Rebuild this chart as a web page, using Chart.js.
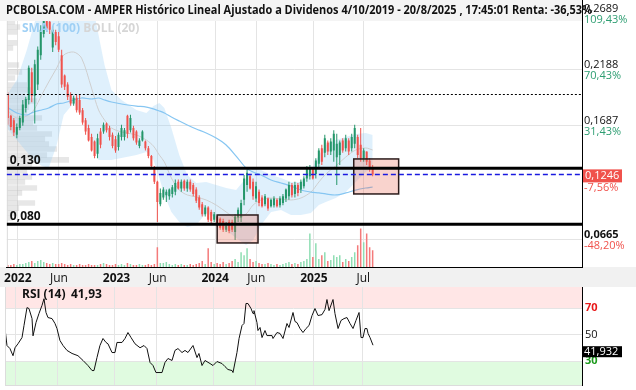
<!DOCTYPE html>
<html lang="es">
<head>
<meta charset="UTF-8">
<title>AMPER - Histórico</title>
<script src="https://cdn.jsdelivr.net/npm/chart.js"></script>
<style>
  body { margin: 0; background: #fff; }
  #mainChart { position: absolute; left: 0; top: 0; }
  #rsiChart { position: absolute; left: 0; top: 287px; }
</style>
</head>
<body>
<canvas id="mainChart" width="636" height="287"></canvas>
<canvas id="rsiChart" width="636" height="103"></canvas>
<script>
const FONT = '"Open Sans", "Noto Sans", sans-serif';
const GREEN = '#24966a', RED = '#f0524c';

// time axis (decimal years)
const xMin = 2021.889, xMax = 2027.717;
const timeTicks = [2022, 2022.4167, 2023, 2023.4167, 2024, 2024.4167, 2025, 2025.5];
const timeLabels = ['2022', 'Jun', '2023', 'Jun', '2024', 'Jun', '2025', 'Jul'];

// price axis
const yMin = 0.0418, yMax = 0.2805;
const priceTicks = [0.2689, 0.2188, 0.1687, 0.0665];
const priceTickPct = ['109,43%', '70,43%', '31,43%', '-48,20%'];
const priceTickBold = [false, false, false, true];

// candles (roughly every 11 days)
const t0 = 2021.899, dt = 0.0303;
const opens = [.196,.177,.173,.160,.166,.171,.184,.191,.216,.195,.205,.231,.250,.264,.261,.238,.252,.248,.231,.213,
  .205,.196,.188,.193,.191,.182,.173,.166,.158,.154,.143,.163,.163,.170,.166,.160,.156,.149,.158,.158,
  .177,.164,.166,.163,.150,.155,.154,.148,.141,.131,.118,.098,.104,.106,.105,.107,.109,.118,.112,.119,
  .112,.118,.115,.111,.104,.098,.089,.095,.091,.084,.087,.085,.083,.075,.082,.082,.073,.086,.086,.102,
  .115,.123,.118,.103,.109,.104,.098,.103,.096,.097,.102,.097,.099,.103,.105,.115,.107,.115,.111,.114,
  .121,.123,.130,.125,.134,.148,.144,.153,.145,.146,.140,.142,.155,.148,.155,.148,.152,.158,.151,.139,
  .145,.137,.131];
const highs = [.198,.178,.175,.170,.177,.191,.194,.222,.220,.227,.239,.258,.267,.267,.264,.257,.254,.252,.236,.214,
  .207,.198,.195,.196,.196,.184,.175,.169,.161,.155,.161,.166,.171,.171,.168,.162,.159,.162,.169,.166,
  .178,.178,.168,.164,.157,.164,.155,.150,.142,.132,.119,.112,.113,.111,.112,.115,.120,.120,.120,.120,
  .120,.120,.117,.113,.106,.100,.097,.096,.093,.091,.088,.086,.085,.082,.084,.084,.089,.095,.102,.124,
  .129,.125,.121,.118,.111,.106,.107,.104,.103,.105,.103,.105,.107,.112,.118,.117,.118,.117,.120,.123,
  .132,.133,.131,.139,.148,.151,.160,.155,.157,.164,.161,.155,.157,.160,.157,.161,.169,.160,.166,.148,
  .145,.139,.133];
const lows = [.169,.164,.159,.157,.164,.168,.180,.187,.189,.170,.200,.227,.247,.252,.250,.234,.240,.234,.202,.200,
  .191,.186,.186,.180,.178,.169,.160,.154,.145,.139,.139,.148,.161,.162,.155,.148,.144,.146,.155,.155,
  .157,.162,.155,.151,.148,.154,.146,.139,.130,.116,.082,.096,.102,.100,.102,.104,.106,.111,.109,.110,
  .109,.109,.105,.099,.093,.087,.087,.082,.081,.082,.078,.075,.073,.073,.072,.073,.066,.082,.082,.097,
  .109,.111,.102,.100,.096,.095,.096,.092,.095,.095,.095,.095,.097,.100,.102,.104,.104,.105,.108,.112,
  .118,.120,.120,.121,.130,.133,.140,.142,.142,.136,.115,.133,.144,.145,.142,.145,.148,.139,.136,.136,
  .133,.127,.123];
const closes = [.175,.167,.162,.167,.175,.187,.192,.220,.195,.223,.236,.254,.264,.255,.254,.254,.243,.236,.205,.203,
  .194,.188,.193,.182,.180,.171,.163,.155,.146,.141,.157,.151,.169,.164,.158,.150,.146,.160,.166,.164,
  .161,.175,.157,.153,.155,.163,.148,.141,.132,.118,.100,.108,.111,.109,.111,.113,.117,.112,.118,.112,
  .118,.111,.107,.101,.095,.089,.095,.084,.083,.089,.079,.077,.075,.079,.074,.075,.087,.093,.099,.121,
  .126,.112,.105,.114,.099,.096,.105,.094,.102,.103,.096,.103,.105,.111,.115,.106,.115,.108,.118,.121,
  .130,.131,.121,.137,.146,.136,.157,.145,.154,.161,.152,.153,.146,.157,.145,.158,.166,.142,.139,.146,
  .136,.130,.1246];
const volumes = [2,2,3,2,3,3,4,5,6,4, 6,7,5,4,3,4,3,3,4,3, 2,3,2,2,3,2,2,3,2,2, 2,3,4,3,2,2,3,2,3,2,
  4,3,2,2,3,2,2,3,2,3, 20,4,4,5,3,2,3,2,3,2, 2,3,2,3,4,6,3,19,5,3, 4,3,5,3,4,6,8,5,15,12,
  19,8,5,6,4,3,3,4,3,2, 3,2,3,4,5,3,4,3,5,6, 8,34,10,24,8,12,15,6,7,12, 10,12,5,8,6,10,15,22,39,25,
  34,20,17];
const volMax = 270;

// Bollinger (20) and SMA (100)
const bandT = [2021.889,2021.990,2022.091,2022.162,2022.242,2022.313,2022.394,2022.465,2022.566,2022.646,
  2022.747,2022.818,2022.879,2022.949,2023.051,2023.202,2023.303,2023.374,2023.434,2023.485,
  2023.556,2023.636,2023.717,2023.808,2023.909,2024.010,2024.111,2024.212,2024.313,2024.384,
  2024.465,2024.566,2024.667,2024.768,2024.869,2024.970,2025.051,2025.121,2025.222,2025.323,
  2025.424,2025.525,2025.596];
const bbUpper = [0.1956,0.2090,0.2358,0.2581,0.2805,0.2939,0.3029,0.3029,0.3029,0.2984,
  0.2805,0.2492,0.2224,0.2000,0.1911,0.1822,0.1795,0.1857,0.1884,0.1840,
  0.1661,0.1419,0.1241,0.1169,0.1178,0.1151,0.1124,0.1106,0.1214,0.1303,
  0.1285,0.1241,0.1214,0.1178,0.1178,0.1285,0.1419,0.1509,0.1553,0.1580,
  0.1607,0.1616,0.1598];
const bbLower = [0.1661,0.1553,0.1446,0.1375,0.1321,0.1303,0.1509,0.1777,0.1884,0.1777,
  0.1553,0.1375,0.1375,0.1375,0.1392,0.1419,0.1446,0.1375,0.1214,0.1062,
  0.0910,0.0820,0.0776,0.0794,0.0901,0.0856,0.0749,0.0677,0.0615,0.0659,
  0.0794,0.0910,0.0928,0.0883,0.0883,0.0901,0.0972,0.0999,0.1035,0.1088,
  0.1178,0.1267,0.1303];
const bbMid = [0.1822,0.1750,0.1768,0.1822,0.1956,0.2072,0.2197,0.2313,0.2340,0.2286,
  0.2018,0.1822,0.1732,0.1661,0.1625,0.1598,0.1553,0.1500,0.1419,0.1357,
  0.1214,0.1106,0.1062,0.1044,0.1017,0.0972,0.0910,0.0856,0.0892,0.0972,
  0.1017,0.1035,0.1026,0.1017,0.1035,0.1088,0.1178,0.1249,0.1321,0.1401,
  0.1464,0.1482,0.1464];
const sma100 = [0.1848,0.1795,0.1777,0.1804,0.1822,0.1840,0.1875,0.1884,0.1911,0.1929,
  0.1920,0.1929,0.1911,0.1893,0.1875,0.1857,0.1848,0.1831,0.1813,0.1795,
  0.1759,0.1723,0.1688,0.1652,0.1616,0.1571,0.1509,0.1410,0.1303,0.1267,
  0.1241,0.1196,0.1169,0.1142,0.1106,0.1088,0.1080,0.1071,0.1062,0.1080,
  0.1106,0.1124,0.1133];

// volume by price (left profile)
const profLevels = [0.2608,0.2564,0.2519,0.2421,0.2376,0.2224,0.2161,0.2108,0.2045,0.2000,0.1947,0.1902,
  0.1848,0.1804,0.1750,0.1705,0.1661,0.1607,0.1562,0.1518,0.1473,0.1419,0.1375,0.1321,0.1276,0.1223,
  0.1178,0.1124,0.1080,0.1035,0.0990,0.0945,0.0901,0.0856];
const profVol = [8,13,10,10,6,12,15,8,20,25,18,30,22,20,35,26,30,45,38,42,50,40,62,25,20,25,18,30,15,10,28,12,10,6];
const profMax = 577;

// levels and marks
const levels = [0.130, 0.080];
const levelLabels = ['0,130', '0,080'];
const dottedLevel = 0.1965;
const lastPrice = 0.1246, lastPriceLabel = '0,1246', lastPct = '-7,56%';
const boxes = [[2024.020, 2024.434, 0.0633, 0.0883], [2025.404, 2025.859, 0.1071, 0.1384]];
const title = 'PCBOLSA.COM - AMPER Histórico Lineal Ajustado a Dividenos 4/10/2019 - 20/8/2025 , 17:45:01 Renta: -36,53%';

// RSI (14)
const rsiT = [2021.889,2021.909,2021.939,2021.970,2021.990,2022.020,2022.061,2022.081,2022.111,2022.131,
  2022.162,2022.172,2022.202,2022.232,2022.263,2022.283,2022.303,2022.323,2022.364,2022.394,
  2022.414,2022.444,2022.475,2022.515,2022.566,2022.626,2022.677,2022.727,2022.768,2022.788,
  2022.818,2022.848,2022.879,2022.909,2022.929,2022.970,2023.000,2023.020,2023.071,2023.101,
  2023.131,2023.162,2023.202,2023.253,2023.293,2023.323,2023.354,2023.384,2023.414,2023.475,
  2023.505,2023.535,2023.576,2023.606,2023.636,2023.677,2023.707,2023.737,2023.788,2023.828,
  2023.848,2023.879,2023.909,2023.960,2023.990,2024.030,2024.081,2024.111,2024.141,2024.182,
  2024.192,2024.232,2024.253,2024.283,2024.303,2024.323,2024.343,2024.374,2024.394,2024.404,
  2024.434,2024.444,2024.465,2024.485,2024.515,2024.535,2024.586,2024.596,2024.636,2024.667,
  2024.697,2024.737,2024.758,2024.798,2024.818,2024.838,2024.869,2024.899,2024.929,2024.960,
  2024.990,2025.020,2025.051,2025.091,2025.121,2025.141,2025.162,2025.202,2025.222,2025.253,
  2025.283,2025.313,2025.343,2025.374,2025.404,2025.434,2025.465,2025.485,2025.505,2025.525,
  2025.545,2025.556,2025.576,2025.606];
const rsiV = [54.5,41.7,39.4,34.0,40.0,43.0,47.7,56.8,70.3,69.6,
  62.0,49.0,59.0,65.8,72.0,77.0,66.6,62.8,62.0,58.3,
  54.5,45.5,41.7,38.0,35.7,34.0,30.4,26.6,22.8,22.8,
  32.6,41.7,47.0,44.0,43.0,36.4,36.4,44.0,44.0,47.0,
  51.5,47.7,43.0,40.0,41.7,39.4,28.9,26.6,21.3,21.3,
  28.9,31.9,30.4,38.0,39.4,36.4,38.0,36.4,41.7,32.6,
  35.7,26.6,30.4,28.1,26.6,29.6,28.1,25.8,23.6,22.8,
  21.3,36.4,47.0,56.8,58.3,73.4,73.4,69.6,65.8,68.0,
  59.0,53.0,55.3,47.7,53.0,49.2,49.2,47.0,51.5,50.8,
  47.0,58.3,55.3,66.6,59.8,59.0,54.5,51.5,54.5,56.8,
  64.3,69.6,64.3,65.0,68.9,76.4,68.0,76.4,65.8,54.5,
  60.6,62.0,62.8,58.3,54.5,60.6,66.6,47.7,47.7,54.5,
  54.5,50.8,47.7,41.93];
const rsiMin = 11.9, rsiMax = 85.85;
const rsiTicks = [30, 50, 70];
const rsiTickColors = ['#1c9a1c', '#111', '#e8191a'];
const rsiLast = '41,932', rsiTitleValue = '41,93';

const candleX = closes.map((_, i) => t0 + i * dt);
const upColor = i => closes[i] >= opens[i];
const fmtPrice = v => v.toFixed(4).replace('.', ',');

const mainOverlay = {
  id: 'mainOverlay',
  beforeDraw(chart) {
    const { ctx, chartArea: a } = chart;
    ctx.save();
    ctx.fillStyle = '#f1f1f1';
    ctx.fillRect(0, a.bottom, chart.width, chart.height - a.bottom);
    ctx.restore();
  },
  afterDraw(chart) {
    const { ctx, chartArea: a, scales: { x, y } } = chart;
    ctx.save();
    // left edge
    ctx.strokeStyle = '#dcdcdc'; ctx.lineWidth = 1;
    ctx.beginPath(); ctx.moveTo(a.left + 0.5, a.top); ctx.lineTo(a.left + 0.5, a.bottom); ctx.stroke();

    // boxes
    boxes.forEach(b => {
      const x0 = x.getPixelForValue(b[0]), x1 = x.getPixelForValue(b[1]);
      const y0 = y.getPixelForValue(b[3]), y1 = y.getPixelForValue(b[2]);
      ctx.fillStyle = 'rgba(235,110,90,0.3)';
      ctx.fillRect(x0, y0, x1 - x0, y1 - y0);
      ctx.strokeStyle = '#2b1b1b'; ctx.lineWidth = 1.5;
      ctx.strokeRect(x0, y0, x1 - x0, y1 - y0);
    });

    // dotted level
    let py = Math.round(y.getPixelForValue(dottedLevel)) + 0.5;
    ctx.strokeStyle = '#000'; ctx.lineWidth = 1; ctx.setLineDash([2, 2]);
    ctx.beginPath(); ctx.moveTo(a.left, py); ctx.lineTo(a.right, py); ctx.stroke();

    // last price dashed
    py = y.getPixelForValue(lastPrice);
    ctx.strokeStyle = '#1a1ae0'; ctx.lineWidth = 1.5; ctx.setLineDash([5, 3]);
    ctx.beginPath(); ctx.moveTo(a.left, py); ctx.lineTo(a.right, py); ctx.stroke();
    ctx.setLineDash([]);

    // support / resistance levels
    ctx.font = 'bold 12px ' + FONT;
    ctx.textBaseline = 'bottom';
    levels.forEach((v, i) => {
      const ly = y.getPixelForValue(v);
      ctx.strokeStyle = '#000'; ctx.lineWidth = 3;
      ctx.beginPath(); ctx.moveTo(a.left, ly); ctx.lineTo(a.right, ly); ctx.stroke();
      ctx.fillStyle = '#111';
      ctx.fillText(levelLabels[i], a.left + 3, ly - 2);
    });

    // indicator legend
    ctx.textBaseline = 'middle';
    ctx.font = 'bold 12px ' + FONT;
    ctx.fillStyle = '#9fd0f5';
    ctx.fillText('SMA (100)', 22, 29);
    const w = ctx.measureText('SMA (100) ').width;
    ctx.fillStyle = '#d6d6d6';
    ctx.fillText('BOLL (20)', 22 + w, 29);

    // title bar
    ctx.fillStyle = '#f4f4f4';
    ctx.fillRect(0, 0, a.right, 21);
    ctx.fillStyle = '#111';
    ctx.font = 'bold 12px ' + FONT;
    ctx.fillText(title, 6, 11, 586);

    // right axis labels
    priceTicks.forEach((v, i) => {
      const ty = y.getPixelForValue(v);
      ctx.font = (priceTickBold[i] ? 'bold ' : '') + '11px ' + FONT;
      ctx.fillStyle = '#111'; ctx.textBaseline = 'bottom';
      ctx.fillText(fmtPrice(v), a.right + 2, ty + 1);
      ctx.font = '11px ' + FONT;
      ctx.fillStyle = priceTickPct[i].startsWith('-') ? RED : '#2e9e72';
      ctx.textBaseline = 'top';
      ctx.fillText(priceTickPct[i], a.right + 2, ty + 1);
    });

    // last price tag
    py = y.getPixelForValue(lastPrice);
    ctx.font = '11px ' + FONT;
    ctx.fillStyle = RED;
    ctx.fillRect(a.right + 1, py - 5, 39, 13);
    ctx.fillStyle = '#fff'; ctx.textBaseline = 'middle';
    ctx.fillText(lastPriceLabel, a.right + 3, py + 1.5);
    ctx.fillStyle = RED; ctx.textBaseline = 'top';
    ctx.fillText(lastPct, a.right + 2, py + 8);
    ctx.restore();
  }
};

const xTickFont = c => ({ family: FONT, size: 12, weight: (c.tick && Number.isInteger(c.tick.value)) ? 'bold' : 'normal' });

new Chart(document.getElementById('mainChart'), {
  type: 'line',
  data: {
    datasets: [
      {
        type: 'bar', indexAxis: 'y', xAxisID: 'xp', yAxisID: 'y', order: 10,
        data: profLevels.map((p, i) => ({ x: profVol[i], y: p })),
        backgroundColor: 'rgba(185,185,185,0.35)', barThickness: 5, grouped: false, borderWidth: 0
      },
      {
        type: 'line', order: 9, data: bandT.map((t, i) => ({ x: t, y: bbUpper[i] })),
        borderWidth: 0, pointRadius: 0, fill: '+1', backgroundColor: 'rgba(150,205,245,0.3)'
      },
      {
        type: 'line', order: 8, data: bandT.map((t, i) => ({ x: t, y: bbLower[i] })),
        borderWidth: 0, pointRadius: 0, fill: false
      },
      {
        type: 'line', order: 7, data: bandT.map((t, i) => ({ x: t, y: bbMid[i] })),
        borderColor: '#cfcfcf', borderWidth: 1, pointRadius: 0, tension: 0.3, fill: false
      },
      {
        type: 'line', order: 6, data: bandT.map((t, i) => ({ x: t, y: sma100[i] })),
        borderColor: '#86c6f2', borderWidth: 1.2, pointRadius: 0, tension: 0.3, fill: false
      },
      {
        type: 'bar', yAxisID: 'yv', order: 5,
        data: candleX.map((t, i) => ({ x: t, y: volumes[i] })),
        backgroundColor: c => upColor(c.dataIndex) ? '#8fdeb3' : '#f47a7a',
        barThickness: 1.5, grouped: false, borderWidth: 0, inflateAmount: 0
      },
      {
        type: 'bar', order: 2,
        data: candleX.map((t, i) => ({ x: t, y: [lows[i], highs[i]] })),
        backgroundColor: c => upColor(c.dataIndex) ? GREEN : RED,
        barThickness: 1, grouped: false, borderWidth: 0, inflateAmount: 0
      },
      {
        type: 'bar', order: 1,
        data: candleX.map((t, i) => ({ x: t, y: [opens[i], closes[i]] })),
        backgroundColor: c => upColor(c.dataIndex) ? GREEN : RED,
        barThickness: 2, grouped: false, borderWidth: 0, minBarLength: 1, inflateAmount: 0
      }
    ]
  },
  options: {
    responsive: false,
    animation: false,
    events: [],
    layout: { padding: { left: 5, top: 0, right: 0, bottom: 0 } },
    plugins: { legend: { display: false }, tooltip: { enabled: false } },
    scales: {
      x: {
        type: 'linear', min: xMin, max: xMax, offset: false,
        grid: { offset: false, color: '#e4e4e4', drawTicks: false },
        border: { color: '#000' },
        afterBuildTicks: s => { s.ticks = timeTicks.map(v => ({ value: v })); },
        afterFit: s => { s.height = 20; },
        ticks: { padding: 4, color: '#111', maxRotation: 0, autoSkip: false, font: xTickFont,
                 callback: (v, i) => timeLabels[i] }
      },
      y: {
        type: 'linear', position: 'right', min: yMin, max: yMax, offset: false,
        grid: { offset: false, color: '#e4e4e4', drawTicks: false },
        border: { color: '#000' },
        afterBuildTicks: s => { s.ticks = priceTicks.map(v => ({ value: v })); },
        afterFit: s => { s.width = 54; },
        ticks: { display: false }
      },
      yv: { type: 'linear', display: false, min: 0, max: volMax },
      xp: { type: 'linear', display: false, min: 0, max: profMax }
    }
  },
  plugins: [mainOverlay]
});

const rsiOverlay = {
  id: 'rsiOverlay',
  beforeDraw(chart) {
    const { ctx, chartArea: a, scales: { y } } = chart;
    const y70 = y.getPixelForValue(70), y30 = y.getPixelForValue(30);
    ctx.save();
    ctx.fillStyle = '#ffe6e6';
    ctx.fillRect(a.left, a.top, a.right - a.left, y70 - a.top);
    ctx.fillStyle = '#e0fbe0';
    ctx.fillRect(a.left, y30, a.right - a.left, a.bottom - y30);
    ctx.restore();
  },
  afterDraw(chart) {
    const { ctx, chartArea: a, scales: { y } } = chart;
    ctx.save();
    ctx.strokeStyle = '#dcdcdc'; ctx.lineWidth = 1;
    ctx.beginPath(); ctx.moveTo(a.left + 0.5, a.top); ctx.lineTo(a.left + 0.5, a.bottom); ctx.stroke();

    ctx.textBaseline = 'middle';
    ctx.font = 'bold 12px ' + FONT;
    ctx.fillStyle = '#111';
    ctx.fillText('RSI (14)', 22, 8);
    ctx.fillText(rsiTitleValue, 71, 8);

    rsiTicks.forEach((v, i) => {
      ctx.font = (v === 50 ? '' : 'bold ') + '11px ' + FONT;
      ctx.fillStyle = rsiTickColors[i];
      ctx.fillText(String(v), a.right + 3, y.getPixelForValue(v));
    });

    const py = y.getPixelForValue(rsiV[rsiV.length - 1]);
    ctx.fillStyle = '#000';
    ctx.fillRect(a.right, py + 1, 40, 11);
    ctx.font = '11px ' + FONT;
    ctx.fillStyle = '#fff';
    ctx.fillText(rsiLast, a.right + 2, py + 7);
    ctx.restore();
  }
};

new Chart(document.getElementById('rsiChart'), {
  type: 'line',
  data: {
    datasets: [{
      data: rsiT.map((t, i) => ({ x: t, y: rsiV[i] })),
      borderColor: '#111', borderWidth: 1, pointRadius: 0, tension: 0, fill: false
    }]
  },
  options: {
    responsive: false,
    animation: false,
    events: [],
    layout: { padding: { left: 5, top: 0, right: 0, bottom: 5 } },
    plugins: { legend: { display: false }, tooltip: { enabled: false } },
    scales: {
      x: {
        type: 'linear', min: xMin, max: xMax,
        grid: { color: '#e4e4e4', drawTicks: false },
        border: { color: '#dcdcdc' },
        afterBuildTicks: s => { s.ticks = timeTicks.map(v => ({ value: v })); },
        afterFit: s => { s.height = 0; },
        ticks: { display: false }
      },
      y: {
        type: 'linear', position: 'right', min: rsiMin, max: rsiMax,
        grid: { color: '#e4e4e4', drawTicks: false },
        border: { color: '#000' },
        afterBuildTicks: s => { s.ticks = rsiTicks.map(v => ({ value: v })); },
        afterFit: s => { s.width = 54; },
        ticks: { display: false }
      }
    }
  },
  plugins: [rsiOverlay]
});
</script>
</body>
</html>
